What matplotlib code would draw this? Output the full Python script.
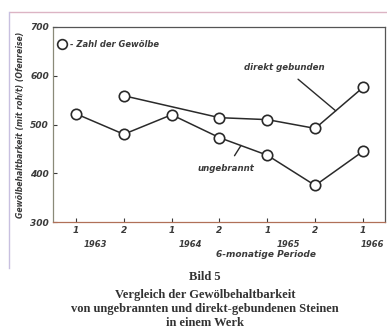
import matplotlib
matplotlib.use("Agg")
import matplotlib.pyplot as plt
from matplotlib.lines import Line2D

# ---------------------------
# data
# ---------------------------

periods = [1, 2, 3, 4, 5, 6, 7]
period_labels = ["1", "2", "1", "2", "1", "2", "1"]

ungebrannt_x = [1, 2, 3, 4, 5, 6, 7]
ungebrannt = [522, 480, 520, 473, 437, 375, 445]

direkt_x = [2, 4, 5, 6, 7]
direkt = [559, 514, 510, 492, 576]

years = ["1963", "1964", "1965", "1966"]
year_pos = [1.4, 3.4, 5.45, 7.2]

y_ticks = [300, 400, 500, 600, 700]

caption = [
    "Bild 5",
    "Vergleich der Gewölbehaltbarkeit",
    "von ungebrannten und direkt-gebundenen Steinen",
    "in einem Werk",
]

ink = "#2a2a2a"
txt = "#3a3a3a"

# ---------------------------
# figure
# ---------------------------

fig = plt.figure(figsize=(3.87, 3.36), dpi=100)
fig.patch.set_facecolor("white")

# axes box in pixels: x 53..385, y 27..222 (from top)
W, H = 387, 336
ax = fig.add_axes([53 / W, 1 - 222 / H, (385 - 53) / W, (222 - 27) / H])

ax.plot(ungebrannt_x, ungebrannt, color=ink, lw=1.1, marker="o",
        markersize=7.5, mfc="white", mec=ink, mew=1.2, zorder=3)
ax.plot(direkt_x, direkt, color=ink, lw=1.1, marker="o",
        markersize=7.5, mfc="white", mec=ink, mew=1.2, zorder=3)

ax.set_xlim(0.52, 7.46)
ax.set_ylim(300, 700)

ax.set_xticks(periods)
ax.set_xticklabels(period_labels)
ax.set_yticks(y_ticks)
ax.set_yticklabels([str(v) for v in y_ticks])

ax.tick_params(direction="in", length=3, width=0.8, colors=txt,
               labelsize=6.5, pad=3)
for lab in ax.get_xticklabels() + ax.get_yticklabels():
    lab.set_fontstyle("italic")
    lab.set_fontweight("bold")

for s in ax.spines.values():
    s.set_color("#555555")
    s.set_linewidth(0.9)
ax.spines["bottom"].set_color("#b07058")
ax.spines["left"].set_color("#8a8a78")

# year labels under the tick labels
for yr, xp in zip(years, year_pos):
    ax.text(xp, -0.115, yr, transform=ax.get_xaxis_transform(),
            ha="center", va="center", fontsize=6, fontstyle="italic",
            fontweight="bold", color=txt)

ax.text(4.97, -0.165, "6-monatige Periode", transform=ax.get_xaxis_transform(),
        ha="center", va="center", fontsize=6.5, fontstyle="italic",
        fontweight="bold", color=txt)

ax.set_ylabel("Gewölbehaltbarkeit (mit roh/t) (Ofenreise)", fontsize=5.6,
              fontstyle="italic", fontweight="bold", color=txt, labelpad=4)

# legend: circle + text
ax.plot([0.7], [665], marker="o", markersize=7, mfc="white", mec=ink,
        mew=1.2, ls="none")
ax.text(0.88, 665, "- Zahl der Gewölbe", ha="left", va="center",
        fontsize=6, fontstyle="italic", fontweight="bold", color=txt)

# series annotations with leader lines
ax.annotate("direkt gebunden", xy=(6.43, 528), xytext=(5.35, 617),
            ha="center", va="center", fontsize=6.2, fontstyle="italic",
            fontweight="bold", color=txt,
            arrowprops=dict(arrowstyle="-", color=ink, lw=1.0,
                            shrinkA=5, shrinkB=0))
ax.annotate("ungebrannt", xy=(4.45, 457), xytext=(4.14, 409),
            ha="center", va="center", fontsize=6.2, fontstyle="italic",
            fontweight="bold", color=txt,
            arrowprops=dict(arrowstyle="-", color=ink, lw=1.0,
                            shrinkA=5, shrinkB=0))

# caption
cap_y = [277, 295, 309, 323]
for line, yp in zip(caption, cap_y):
    fig.text(205 / W, 1 - yp / H, line, ha="center", va="center",
             fontsize=9, family="Liberation Serif", fontweight="bold",
             color="#333333")

# scan border of the page
fig.add_artist(Line2D([10 / W, 1.0], [1 - 12 / H, 1 - 12 / H],
                      transform=fig.transFigure, color="#dcb4c4", lw=1.0))
fig.add_artist(Line2D([9 / W, 9 / W], [1 - 12 / H, 1 - 268 / H],
                      transform=fig.transFigure, color="#c8c0e0", lw=1.0))

fig.savefig("out.png", dpi=100, facecolor="white")
